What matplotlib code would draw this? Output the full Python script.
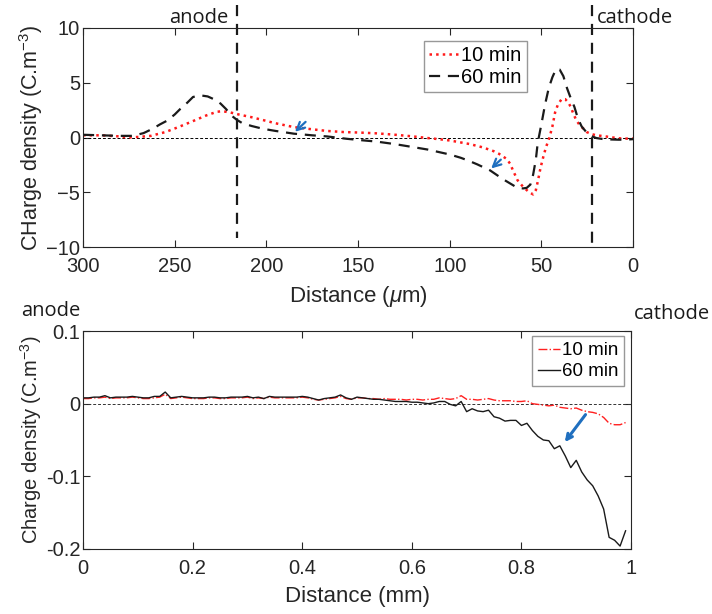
import numpy as np
import matplotlib
matplotlib.use("Agg")
import matplotlib.pyplot as plt
from matplotlib.transforms import blended_transform_factory

plt.rcParams['font.family'] = ['Liberation Sans', 'DejaVu Sans']
plt.rcParams['mathtext.fontset'] = 'custom'
plt.rcParams['mathtext.rm'] = 'Liberation Sans'
plt.rcParams['mathtext.it'] = 'Liberation Sans:italic'

# ---- top panel data (distance in um, charge density in C.m^-3) ----
x10_um = [300, 290, 280, 276, 270, 263, 255, 248, 240, 233, 227, 224, 220, 215,
          208, 202, 195, 185, 175, 167, 158, 149, 140, 131, 120, 112, 106, 100,
          94, 89, 82, 76, 73, 69, 67, 65.5, 63, 60, 57, 54.5, 53, 51.8, 50.5,
          49, 47.5, 45.6, 44, 42.5, 41, 39, 37, 35.3, 34, 32.5, 31, 29, 27,
          25.3, 22.5, 19.8, 15, 11, 6, 0]
y10_um = [0.2, 0.2, 0.1, 0.0, 0.05, 0.15, 0.5, 0.95, 1.5, 2.0, 2.35, 2.4, 2.3, 2.1,
          1.85, 1.6, 1.3, 0.95, 0.75, 0.6, 0.5, 0.45, 0.38, 0.27, 0.1, -0.05, -0.15, -0.27,
          -0.45, -0.6, -0.9, -1.25, -1.5, -1.95, -2.4, -3.0, -3.9, -4.5, -4.95, -5.2, -4.8, -3.9, -2.8,
          -1.8, -0.9, 0.0, 1.0, 2.3, 3.0, 3.5, 3.5, 3.2, 2.8, 2.15, 1.6, 1.1, 0.8,
          0.5, 0.3, 0.2, 0.1, 0.0, -0.1, -0.1]

x60_um = [300, 290, 280, 273, 267, 262, 258, 254, 250, 247, 243, 240, 236, 232,
          228, 225, 222, 219, 216, 213, 208, 202, 195, 185, 175, 167, 156, 148,
          140, 130, 122, 112, 104, 100, 94, 90, 85, 78, 71, 66, 63, 60, 58, 56,
          54.5, 53, 52, 50, 48, 46, 44, 42, 40, 38, 36, 34, 32, 30, 28, 25.5,
          23, 20, 16, 12, 8, 4, 0]
y60_um = [0.25, 0.2, 0.15, 0.15, 0.4, 0.8, 1.2, 1.55, 2.1, 2.6, 3.2, 3.7, 3.85, 3.75,
          3.45, 3.1, 2.6, 2.0, 1.6, 1.3, 1.05, 0.8, 0.6, 0.35, 0.2, 0.1, -0.12, -0.25,
          -0.37, -0.6, -0.82, -1.1, -1.4, -1.55, -1.85, -2.1, -2.45, -3.0, -3.8, -4.3, -4.6, -4.65, -4.6, -4.3,
          -3.4, -2.0, -0.5, 1.2, 3.0, 4.5, 5.5, 6.25, 6.2, 5.6, 4.5, 3.6, 2.8, 1.7, 1.0, 0.5,
          0.15, -0.05, -0.15, -0.18, -0.2, -0.2, -0.15]

anode_um = 216
cathode_um = 22.5

# ---- bottom panel data (distance in mm) ----
x_mm = [round(0.01 * i, 2) for i in range(100)]
y60_mm = [0.008, 0.008, 0.009, 0.009, 0.011, 0.008, 0.009, 0.009, 0.009, 0.010,
          0.009, 0.008, 0.008, 0.010, 0.010, 0.016, 0.008, 0.009, 0.010, 0.009,
          0.008, 0.008, 0.008, 0.009, 0.009, 0.008, 0.008, 0.009, 0.009, 0.009,
          0.010, 0.008, 0.009, 0.007, 0.010, 0.009, 0.009, 0.009, 0.009, 0.009,
          0.010, 0.009, 0.007, 0.005, 0.007, 0.008, 0.009, 0.012, 0.008, 0.006,
          0.009, 0.008, 0.007, 0.006, 0.006, 0.005, 0.004, 0.003, 0.003, 0.003,
          0.002, 0.002, 0.001, 0.000, 0.001, 0.003, 0.003, -0.001, -0.003, 0.003,
          -0.011, -0.007, -0.010, -0.011, -0.009, -0.018, -0.020, -0.024, -0.023, -0.023,
          -0.030, -0.027, -0.037, -0.045, -0.050, -0.051, -0.062, -0.058, -0.072, -0.088,
          -0.078, -0.094, -0.105, -0.113, -0.127, -0.145, -0.184, -0.188, -0.196, -0.175]
y10_mm = [0.007, 0.007, 0.008, 0.008, 0.009, 0.007, 0.008, 0.008, 0.008, 0.009,
          0.008, 0.007, 0.007, 0.008, 0.009, 0.013, 0.007, 0.008, 0.009, 0.008,
          0.007, 0.007, 0.007, 0.008, 0.008, 0.007, 0.007, 0.008, 0.008, 0.008,
          0.009, 0.007, 0.008, 0.007, 0.009, 0.008, 0.008, 0.008, 0.008, 0.008,
          0.009, 0.008, 0.006, 0.005, 0.006, 0.007, 0.008, 0.010, 0.007, 0.006,
          0.008, 0.008, 0.007, 0.007, 0.006, 0.007, 0.006, 0.006, 0.006, 0.005,
          0.006, 0.006, 0.005, 0.006, 0.006, 0.008, 0.007, 0.006, 0.007, 0.011,
          0.006, 0.006, 0.005, 0.006, 0.007, 0.005, 0.004, 0.004, 0.004, 0.003,
          0.003, 0.004, 0.000, -0.001, -0.002, -0.003, -0.002, -0.005, -0.006, -0.007,
          -0.006, -0.009, -0.011, -0.012, -0.014, -0.019, -0.027, -0.029, -0.029, -0.026]

labels = ['10 min', '60 min']
text_col = '#262626'
arrow_col = '#1f6fbf'
side_font = ['Open Sans', 'DejaVu Sans']

fig = plt.figure(figsize=(7.12, 6.14), dpi=100)
ax1 = fig.add_axes([0.1166, 0.5977, 0.7725, 0.3567])
ax2 = fig.add_axes([0.1166, 0.1059, 0.7697, 0.3550])

# ---- top ----
ax1.axhline(0, color='black', ls='--', lw=0.7, dashes=(3, 2))
ax1.plot(x10_um, y10_um, color='#ff1a1a', ls=':', lw=1.8, label=labels[0])
ax1.plot(x60_um, y60_um, color='#1a1a1a', ls='--', lw=1.6, dashes=(5, 3.5), label=labels[1])
ax1.plot([anode_um, anode_um], [12.1, -9.2], color='#1a1a1a', ls='--', lw=1.6,
         dashes=(5, 3.5), clip_on=False)
ax1.plot([cathode_um, cathode_um], [12.1, -10], color='#1a1a1a', ls='--', lw=1.6,
         dashes=(5, 3.5), clip_on=False)
ax1.set_xlim(300, 0)
ax1.set_ylim(-10, 10)
ax1.set_xticks([300, 250, 200, 150, 100, 50, 0])
ax1.set_yticks([-10, -5, 0, 5, 10])
ax1.set_xlabel(r'Distance ($\mu$m)', fontsize=16, color=text_col, labelpad=6)
ax1.set_ylabel(r'CHarge density (C.m$^{-3}$)', fontsize=15.5, color=text_col, labelpad=1)
tr1 = blended_transform_factory(ax1.transData, ax1.transAxes)
ax1.text(220.5, 1.045, 'anode', transform=tr1, ha='right', va='center',
         fontsize=14.5, family=side_font, color='#1a1a1a')
ax1.text(19.5, 1.045, 'cathode', transform=tr1, ha='left', va='center',
         fontsize=14.5, family=side_font, color='#1a1a1a')
ax1.annotate('', xy=(185.5, 0.35), xytext=(177.5, 1.6),
             arrowprops=dict(arrowstyle='->', color=arrow_col, lw=1.6,
                             mutation_scale=14))
ax1.annotate('', xy=(78.5, -3.0), xytext=(71, -1.85),
             arrowprops=dict(arrowstyle='->', color=arrow_col, lw=1.6,
                             mutation_scale=14))
leg1 = ax1.legend(loc='upper left', bbox_to_anchor=(0.62, 0.94), fontsize=14.5,
                  frameon=True, fancybox=False, edgecolor='#7f7f7f', handlelength=1.5,
                  handletextpad=0.1, borderpad=0.25, labelspacing=0.15, borderaxespad=0)
leg1.get_frame().set_linewidth(1.0)

# ---- bottom ----
ax2.axhline(0, color='#333333', ls='--', lw=0.7, dashes=(3, 2))
ax2.plot(x_mm, y10_mm, color='#ff2020', ls='-.', lw=1.0, label=labels[0])
ax2.plot(x_mm, y60_mm, color='#1a1a1a', ls='-', lw=1.0, label=labels[1])
ax2.set_xlim(0, 1)
ax2.set_ylim(-0.2, 0.1)
ax2.set_xticks([0, 0.2, 0.4, 0.6, 0.8, 1])
ax2.set_xticklabels(['0', '0.2', '0.4', '0.6', '0.8', '1'])
ax2.set_yticks([-0.2, -0.1, 0, 0.1])
ax2.set_yticklabels(['-0.2', '-0.1', '0', '0.1'])
ax2.set_xlabel('Distance (mm)', fontsize=16, color=text_col, labelpad=6)
ax2.set_ylabel(r'Charge density (C.m$^{-3}$)', fontsize=14.5, color=text_col, labelpad=1)
ax2.text(-0.005, 1.09, 'anode', transform=ax2.transAxes, ha='right', va='center',
         fontsize=14.5, family=side_font, color='#1a1a1a')
ax2.text(1.005, 1.08, 'cathode', transform=ax2.transAxes, ha='left', va='center',
         fontsize=14.5, family=side_font, color='#1a1a1a')
ax2.annotate('', xy=(0.876, -0.056), xytext=(0.92, -0.012),
             arrowprops=dict(arrowstyle='->', color=arrow_col, lw=2.2))
leg2 = ax2.legend(loc='upper right', bbox_to_anchor=(0.988, 0.975), fontsize=13.5,
                  frameon=True, fancybox=False, edgecolor='#7f7f7f', handlelength=1.2,
                  handletextpad=0.1, borderpad=0.3, labelspacing=0.2, borderaxespad=0)
leg2.get_frame().set_linewidth(1.0)

for ax in (ax1, ax2):
    ax.tick_params(direction='in', top=True, right=True, length=5, width=0.8,
                   labelsize=14.5, colors=text_col)
    ax.tick_params(axis='x', pad=7)
    ax.tick_params(axis='y', pad=2)
    for s in ax.spines.values():
        s.set_color(text_col)
        s.set_linewidth(0.8)

fig.savefig('out.png', dpi=100)
